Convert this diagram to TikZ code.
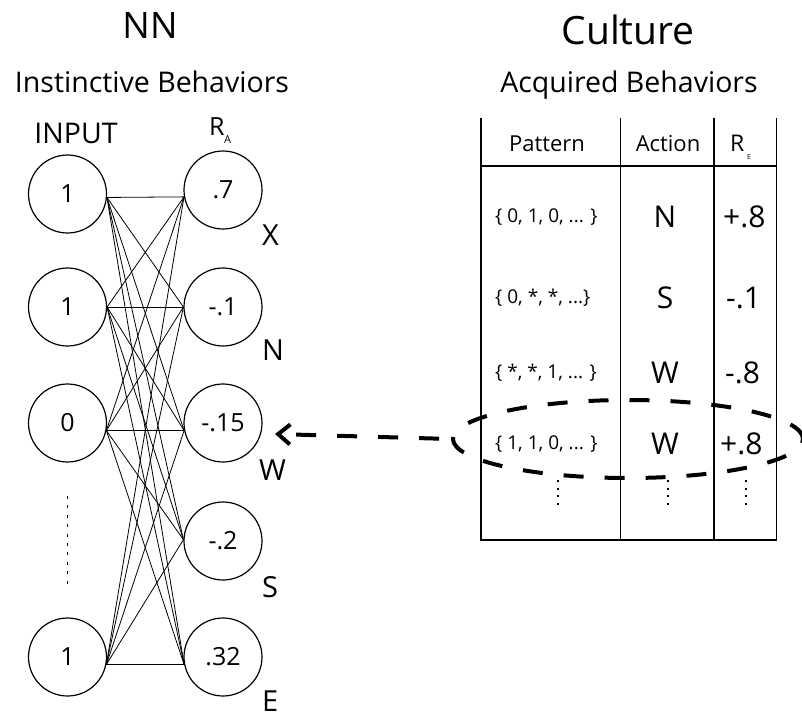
\documentclass[tikz,border=0pt]{standalone}
\usepackage{fontspec}
\setmainfont{Open Sans}
\usetikzlibrary{shapes.geometric,arrows.meta}
\newcommand{\myfs}[1]{\fontsize{#1}{#1}\selectfont}
\begin{document}
\begin{tikzpicture}[x=1pt,y=-1pt,
  neuron/.style={circle,draw,line width=1.2pt,minimum size=78pt,inner sep=0pt,font=\myfs{25}},
  link/.style={line width=0.8pt},
  txt/.style={inner sep=0pt,anchor=base},
  txtw/.style={inner sep=0pt,anchor=base west},
  title/.style={txt,font=\myfs{36.5}},
  subtitle/.style={txt,font=\myfs{28.5}},
  outlab/.style={txtw,font=\myfs{29}},
  head/.style={txt,font=\myfs{22}},
  pat/.style={txtw,font=\myfs{19}},
  val/.style={txt,font=\myfs{30}},
  valw/.style={txtw,font=\myfs{30}},
  tbl/.style={line width=1.3pt},
  thick dash/.style={line width=4pt,dash pattern=on 20pt off 21pt}]
\useasboundingbox (0,0) rectangle (802,717);

% titles
\node[title] (nn) at (150,38) {NN};
\node[title,font=\myfs{39}] (cult) at (628,45) {Culture};
\node[subtitle] (inst) at (152,92) {Instinctive Behaviors};
\node[subtitle] (acq) at (629,92) {Acquired Behaviors};
\node[subtitle] (inp) at (76,143) {INPUT};
\node[txtw,font=\myfs{25}] (ra) at (209,135) {R};
\node[txtw,font=\myfs{11}] (ras) at (224,143) {A};

% neurons
\node[neuron] (L1) at (67.5,194) {1};
\node[neuron] (L2) at (67.5,307) {1};
\node[neuron] (L3) at (67.5,423) {0};
\node[neuron] (L5) at (67.5,657) {1};
\node[neuron] (R1) at (223,190) {.7};
\node[neuron] (R2) at (223,307) {-.1};
\node[neuron] (R3) at (223,423) {-.15};
\node[neuron] (R4) at (223,541) {-.2};
\node[neuron] (R5) at (223,657) {.32};

\foreach \l/\la in {L1/-5,L2/0,L3/-11,L5/-11}
  \foreach \r/\ra in {R1/190,R2/180,R3/191,R4/178,R5/191}
    \draw[link] (\l.\la) -- (\r.\ra);

\draw[line width=1.2pt,dash pattern=on 3pt off 6.4pt] (67.5,496) -- (67.5,585);

% output labels
\node[outlab] (lx) at (262,245) {X};
\node[outlab] (ln) at (262,360) {N};
\node[outlab] (lw) at (259,480) {W};
\node[outlab] (ls) at (262,597) {S};
\node[outlab] (le) at (262,711) {E};

% table
\draw[tbl] (481,118) -- (481,540) -- (776.5,540) -- (776.5,118);
\draw[tbl] (620.5,118) -- (620.5,540);
\draw[tbl] (714,118) -- (714,540);
\draw[tbl] (481,166) -- (776.5,166);

\node[head] (hp) at (547,151) {Pattern};
\node[head] (ha) at (668,151) {Action};
\node[txtw,font=\myfs{23}] (hr) at (730,151) {R};
\node[txtw,font=\myfs{7}] (hre) at (747,159) {E};

\node[pat] (p1) at (495,222) {\{ 0, 1, 0, ... \}};
\node[pat] (p2) at (495,303) {\{ 0, *, *, ...\}};
\node[pat] (p3) at (495,378) {\{ *, *, 1, ... \}};
\node[pat] (p4) at (495,449) {\{ 1, 1, 0, ... \}};

\node[val] (a1) at (665,227) {N};
\node[val] (a2) at (665,308) {S};
\node[val] (a3) at (665,383) {W};
\node[val] (a4) at (665,454) {W};

\node[valw] (r1) at (723,227) {+.8};
\node[valw] (r2) at (726,308) {-.1};
\node[valw] (r3) at (725,383) {-.8};
\node[valw] (r4) at (720,454) {+.8};

\foreach \x in {558,668,746}
  \draw[line width=1.2pt,dash pattern=on 2pt off 5.5pt] (\x,480) -- (\x,505);

% dashed ellipse and arrow
\node[ellipse,draw,thick dash,minimum width=350pt,minimum height=78pt,inner sep=0pt] (ell) at (628,439) {};
\coordinate (tip) at (275,434);
\draw[thick dash,dash phase=25pt,{Straight Barb[length=12pt,width=20pt]}-] (tip) -- (ell.west);
\end{tikzpicture}
\end{document}
